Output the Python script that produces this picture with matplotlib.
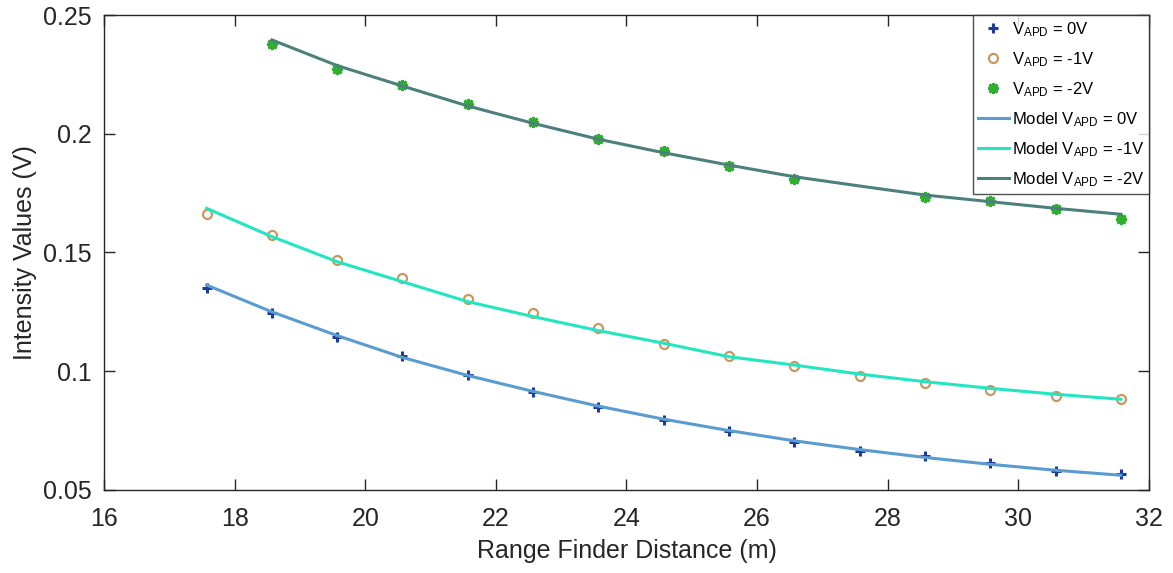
import matplotlib
matplotlib.use("Agg")
import matplotlib.pyplot as plt
import numpy as np

plt.rcParams['font.family'] = ['Liberation Sans', 'DejaVu Sans']
plt.rcParams['mathtext.default'] = 'regular'

# measured distances (m)
dist = [17.57, 18.57, 19.57, 20.57, 21.57, 22.57, 23.57, 24.57,
        25.57, 26.57, 27.57, 28.57, 29.57, 30.57, 31.57]
dist_2v = [18.57, 19.57, 20.57, 21.57, 22.57, 23.57, 24.57,
           25.57, 26.57, 28.57, 29.57, 30.57, 31.57]

# measured intensities (V)
v0 = [0.1352, 0.1247, 0.1143, 0.1066, 0.0984, 0.0913, 0.0848, 0.0795,
      0.0748, 0.0701, 0.0664, 0.0643, 0.0612, 0.0580, 0.0567]
v1 = [0.1661, 0.1574, 0.1468, 0.1394, 0.1303, 0.1244, 0.1182, 0.1115,
      0.1064, 0.1022, 0.0980, 0.0952, 0.0921, 0.0897, 0.0885]
v2 = [0.2378, 0.2271, 0.2205, 0.2124, 0.2050, 0.1978, 0.1927,
      0.1864, 0.1808, 0.1735, 0.1718, 0.1685, 0.1642]

# model curves
model_x0 = dist
model_v0 = [0.1363, 0.1250, 0.1150, 0.1058, 0.0982, 0.0915, 0.0853, 0.0798,
            0.0750, 0.0707, 0.0670, 0.0637, 0.0608, 0.0583, 0.0562]
model_x1 = dist
model_v1 = [0.1686, 0.1567, 0.1461, 0.1377, 0.1293, 0.1230, 0.1171, 0.1118,
            0.1061, 0.1026, 0.0988, 0.0956, 0.0928, 0.0903, 0.0882]
model_x2 = dist[1:]
model_v2 = [0.2395, 0.2287, 0.2201, 0.2117, 0.2044, 0.1977, 0.1920,
            0.1868, 0.1819, 0.1780, 0.1742, 0.1714, 0.1686, 0.1661]

xticks = [16, 18, 20, 22, 24, 26, 28, 30, 32]
yticks = [0.05, 0.1, 0.15, 0.2, 0.25]
ytick_labels = ['0.05', '0.1', '0.15', '0.2', '0.25']

fig = plt.figure(figsize=(11.73, 5.73), dpi=100)
ax = fig.add_axes([0.0887, 0.1449, 0.8908, 0.8289])

ax.plot(dist, v0, linestyle='none', marker='+', ms=7, mew=2.2,
        color='#1c3a9c', label=r'V$_{APD}$ = 0V')
ax.plot(dist, v1, linestyle='none', marker='o', ms=6.5, mew=1.6,
        mfc='none', mec='#c49a62', label=r'V$_{APD}$ = -1V')
ax.plot(dist_2v, v2, linestyle='none', marker=(8, 2, 0), ms=8, mew=2.0,
        color='#2fae2f', label=r'V$_{APD}$ = -2V')
ax.plot(model_x0, model_v0, color='#5a9bd0', lw=2.2,
        label=r'Model V$_{APD}$ = 0V')
ax.plot(model_x1, model_v1, color='#22e6c2', lw=2.2,
        label=r'Model V$_{APD}$ = -1V')
ax.plot(model_x2, model_v2, color='#4c807c', lw=2.2,
        label=r'Model V$_{APD}$ = -2V')

ax.set_xlim(16, 32)
ax.set_ylim(0.05, 0.25)
ax.set_xticks(xticks)
ax.set_yticks(yticks)
ax.set_yticklabels(ytick_labels)
ax.tick_params(direction='in', length=8, width=1, top=True, right=True,
               labelsize=18, colors='#262626')
ax.tick_params(axis='x', pad=12)
ax.tick_params(axis='y', pad=9)
for s in ax.spines.values():
    s.set_color('#262626')
    s.set_linewidth(1)

ax.set_xlabel('Range Finder Distance (m)', fontsize=18, color='#262626',
              labelpad=6)
ax.set_ylabel('Intensity Values (V)', fontsize=18, color='#262626')

leg = ax.legend(loc='upper right', fontsize=12, frameon=True, fancybox=False,
                edgecolor='#262626', borderaxespad=0, handlelength=1.9,
                handletextpad=0.15, labelspacing=0.68, borderpad=0.3)
leg.get_frame().set_linewidth(1)

fig.savefig('out.png', dpi=100)
